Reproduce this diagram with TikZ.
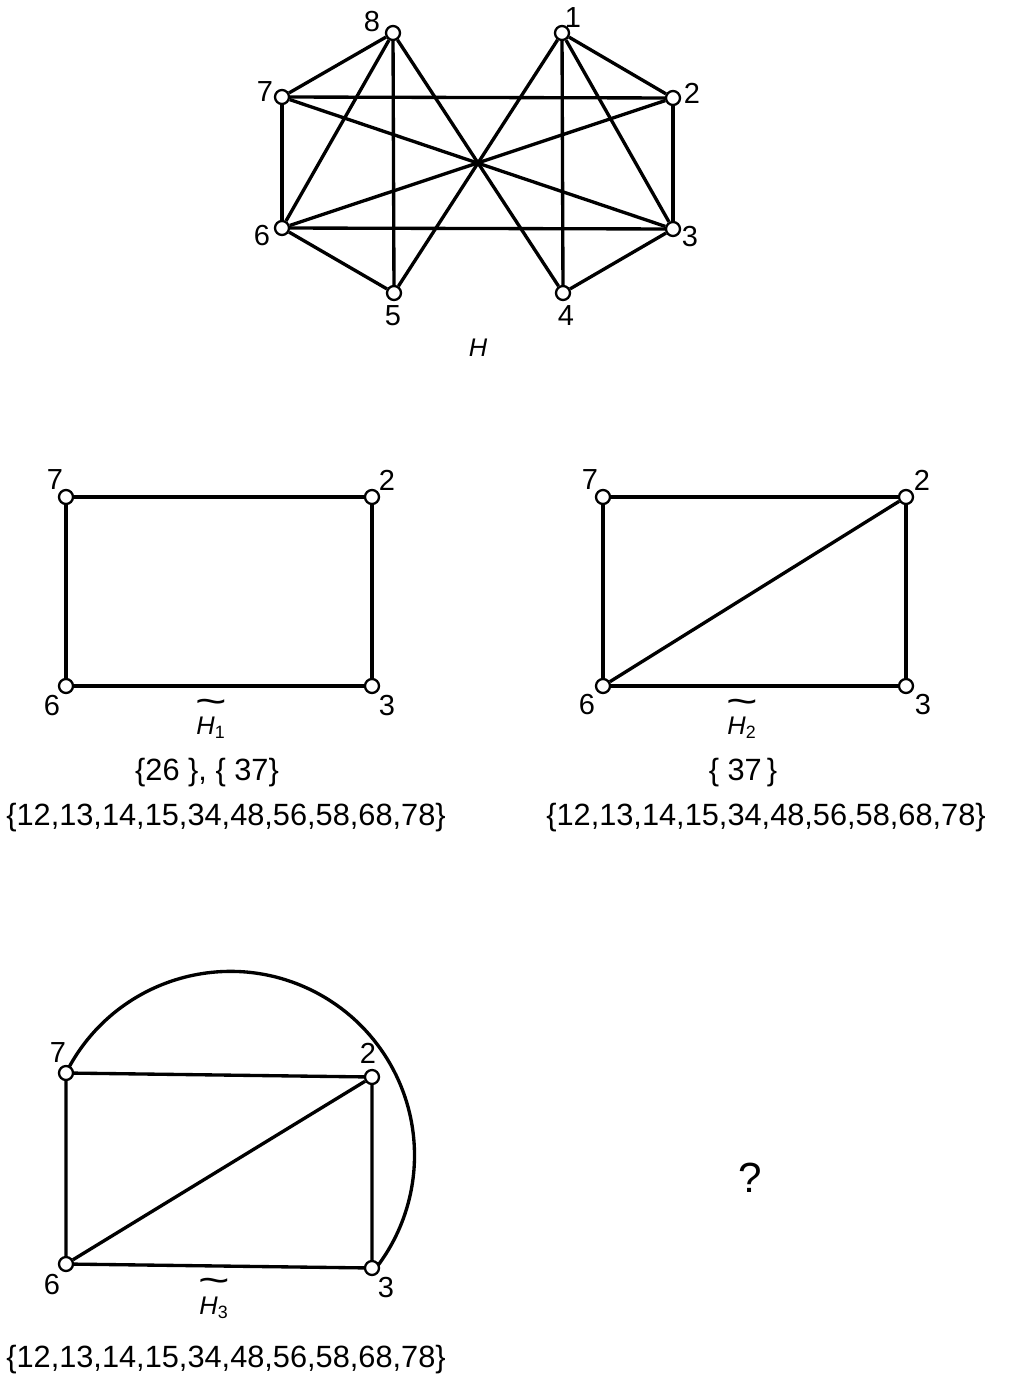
\documentclass[tikz,border=0pt]{standalone}
\usepackage{fontspec}
\setmainfont{Liberation Sans}
\usetikzlibrary{positioning, backgrounds}

\begin{document}
\begin{tikzpicture}[x=0.02cm, y=-0.02cm,
    vtx/.style={circle, draw, fill=white, line width=1.3pt, minimum size=0.28cm, inner sep=0pt},
    edge/.style={line width=1.9pt},
    vlbl/.style={font=\fontsize{16.5}{18}\selectfont, inner sep=0pt},
    tlbl/.style={font=\fontsize{14.5}{16}\selectfont\itshape, inner sep=0pt},
    tilde/.style={font=\fontsize{22}{24}\selectfont, inner sep=0pt},
    setlbl/.style={font=\fontsize{17.5}{20}\selectfont, inner sep=0pt}
]
\useasboundingbox (0,0) rectangle (1009,1389);

% Graph H
\node[vtx] (hv8) at (393,33) {};
\node[vtx] (hv1) at (562,33) {};
\node[vtx] (hv7) at (282,97) {};
\node[vtx] (hv2) at (673,98) {};
\node[vtx] (hv6) at (282,228) {};
\node[vtx] (hv3) at (673,229) {};
\node[vtx] (hv5) at (394,293) {};
\node[vtx] (hv4) at (563,293) {};

\foreach \a/\b in {8/7, 8/6, 8/5, 8/4, 1/2, 1/3, 1/4, 1/5, 7/2, 7/6, 7/3, 2/3, 2/6, 6/3, 6/5, 3/4}
    \draw[edge] (hv\a) -- (hv\b);

\node[vlbl] (hl8) at (372,22) {8};
\node[vlbl] (hl1) at (573,18) {1};
\node[vlbl] (hl7) at (265,92) {7};
\node[vlbl] (hl2) at (692,93) {2};
\node[vlbl] (hl6) at (262,236) {6};
\node[vlbl] (hl3) at (690,237) {3};
\node[vlbl] (hl5) at (393,316) {5};
\node[vlbl] (hl4) at (566,316) {4};
\node[tlbl] (hname) at (478,348) {H};

% Graph H1
\node[vtx] (av7) at (66,497) {};
\node[vtx] (av2) at (372,497) {};
\node[vtx] (av6) at (66,686) {};
\node[vtx] (av3) at (372,686) {};
\draw[edge] (av7) -- (av2) -- (av3) -- (av6) -- (av7);

\node[vlbl] (al7) at (55,480) {7};
\node[vlbl] (al2) at (387,480) {2};
\node[vlbl] (al6) at (52,706) {6};
\node[vlbl] (al3) at (387,706) {3};
\node[tlbl] (aname) at (211,728) {H\textsubscript{\upshape 1}};
\node[tilde, above=1.5pt of aname] (atilde) {\scalebox{1.4}[1]{\textasciitilde}};
\node[setlbl] (aset1) at (207,773) {\{26\;\},\;\{\;37\}};
\node[setlbl] (aset2) at (226,818) {\{12,13,14,15,34,48,56,58,68,78\}};

% Graph H2
\node[vtx] (bv7) at (603,497) {};
\node[vtx] (bv2) at (906,497) {};
\node[vtx] (bv6) at (603,686) {};
\node[vtx] (bv3) at (906,686) {};
\draw[edge] (bv7) -- (bv2) -- (bv3) -- (bv6) -- (bv7);
\draw[edge] (bv6) -- (bv2);

\node[vlbl] (bl7) at (590,480) {7};
\node[vlbl] (bl2) at (922,480) {2};
\node[vlbl] (bl6) at (587,705) {6};
\node[vlbl] (bl3) at (923,705) {3};
\node[tlbl] (bname) at (742,728) {H\textsubscript{\upshape 2}};
\node[tilde, above=1.5pt of bname] (btilde) {\scalebox{1.4}[1]{\textasciitilde}};
\node[setlbl] (bset1) at (743,773) {\{\;37\,\}};
\node[setlbl] (bset2) at (766,818) {\{12,13,14,15,34,48,56,58,68,78\}};

% Graph H3
\node[vtx] (cv7) at (66,1073) {};
\node[vtx] (cv2) at (372,1077) {};
\node[vtx] (cv6) at (66,1264) {};
\node[vtx] (cv3) at (372,1268) {};
\draw[edge] (cv7) -- (cv2) -- (cv3) -- (cv6) -- (cv7);
\draw[edge] (cv6) -- (cv2);
\begin{scope}[on background layer]
\draw[edge] (cv7.center) arc[start angle=-153.4, end angle=38.5, radius=184];
\end{scope}

\node[vlbl] (cl7) at (58,1053) {7};
\node[vlbl] (cl2) at (368,1053) {2};
\node[vlbl] (cl6) at (52,1285) {6};
\node[vlbl] (cl3) at (386,1288) {3};
\node[tlbl] (cname) at (214,1308) {H\textsubscript{\upshape 3}};
\node[tilde, above=1.5pt of cname] (ctilde) {\scalebox{1.4}[1]{\textasciitilde}};
\node[setlbl] (cset) at (226,1360) {\{12,13,14,15,34,48,56,58,68,78\}};

% Unknown
\node[font=\fontsize{24}{26}\selectfont, inner sep=0pt] (qmark) at (750,1178) {?};

\end{tikzpicture}
\end{document}
